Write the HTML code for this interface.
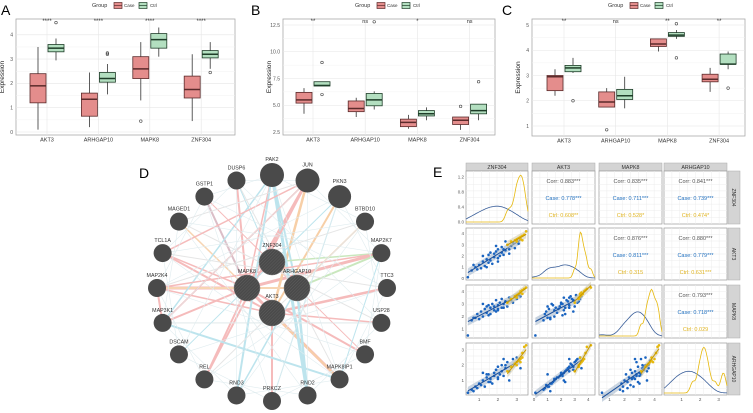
<!DOCTYPE html>
<html><head><meta charset="utf-8">
<style>
html,body{margin:0;padding:0;background:#fff;}
svg{display:block;font-family:"Liberation Sans",sans-serif;}
</style></head>
<body>
<svg id="fig" width="753" height="413" viewBox="0 0 753 413" xmlns="http://www.w3.org/2000/svg">
<defs><pattern id="hatch" width="2.2" height="2.2" patternUnits="userSpaceOnUse" patternTransform="rotate(45)"><rect width="2.2" height="2.2" fill="#4a4a4a"/><line x1="0" y1="0" x2="0" y2="2.2" stroke="#6a6a6a" stroke-width="0.6"/></pattern></defs>
</svg>
<script>
// ---------- Box plot data ----------
const boxCategories = ["AKT3","ARHGAP10","MAPK8","ZNF304"];
// [low whisker, q1, median, q3, high whisker]
const aCase = [[0.1,1.2,1.9,2.4,3.5],[0.2,0.65,1.35,1.6,2.45],[1.3,2.2,2.6,3.1,3.7],[0.45,1.4,1.75,2.3,3.2]];
const aCtrl = [[2.95,3.3,3.45,3.6,3.85],[1.55,2.05,2.2,2.45,2.8],[3.1,3.45,3.8,4.05,4.3],[2.6,3.05,3.2,3.35,3.7]];
const aCaseOut = [[],[],[0.45],[]];
const aCtrlOut = [[4.5],[3.2,3.25],[],[2.45]];
const aSig = ["****","****","****","****"];
const aTicks = [0,1,2,3,4];

const bCase = [[4.2,5.2,5.5,6.2,6.6],[3.9,4.4,4.7,5.4,5.7],[2.8,3.0,3.4,3.7,4.1],[2.7,3.2,3.6,3.9,3.9]];
const bCtrl = [[6.8,6.8,6.85,7.2,7.2],[4.6,4.95,5.5,6.1,6.3],[3.6,4.0,4.2,4.5,4.8],[3.6,4.2,4.5,5.1,5.1]];
const bCaseOut = [[],[],[],[4.9]];
const bCtrlOut = [[9.0,6.0],[12.8],[],[7.2]];
const bSig = ["**","ns","*","ns"];
const bTicks = [2.5,5.0,7.5,10.0,12.5];

const cCase = [[2.2,2.4,2.95,3.0,3.25],[1.75,1.75,1.95,2.35,2.5],[3.95,4.15,4.25,4.45,4.45],[2.35,2.75,2.85,3.05,3.3]];
const cCtrl = [[3.1,3.15,3.3,3.4,3.7],[1.7,2.05,2.2,2.45,2.95],[4.45,4.55,4.6,4.7,4.8],[3.25,3.45,3.45,3.85,3.95]];
const cCaseOut = [[],[0.85],[],[]];
const cCtrlOut = [[2.0],[],[5.05,3.7],[2.5]];
const cSig = ["**","ns","**","**"];
const cTicks = [1,2,3,4,5];

// ---------- Correlation (panel E) data: per-sample expression ----------
const genes = ["ZNF304","AKT3","MAPK8","ARHGAP10"];
const caseZNF = [0.4,0.6,0.8,0.9,1.0,1.1,1.2,1.3,1.4,1.5,1.5,1.6,1.7,1.8,1.8,1.9,2.0,2.0,2.1,2.2,2.2,2.3,2.4,2.5,2.6,2.7,2.8,2.9,3.0,3.1,1.2,1.6,2.0,2.4,0.7,1.9,2.6,1.4,2.3,3.2];
const caseAKT = [0.1,0.7,1.0,0.8,1.2,0.9,1.5,1.1,1.7,1.4,2.1,1.6,1.3,2.2,1.9,2.4,1.8,2.6,2.0,2.3,2.8,2.1,2.5,3.0,2.6,2.9,3.2,2.7,3.4,3.1,2.0,2.3,1.5,3.3,1.2,2.9,2.2,1.0,2.6,3.5];
const caseMAP = [0.5,1.7,1.9,2.2,1.8,2.4,2.0,2.6,2.3,2.9,2.1,2.7,3.0,2.5,2.8,3.3,2.6,2.9,3.1,2.7,3.4,3.0,3.2,2.8,3.5,3.3,3.1,3.6,3.4,3.7,3.0,2.2,2.5,3.2,1.9,2.4,3.5,2.8,2.7,3.6];
const caseARH = [0.2,0.4,0.6,0.5,0.8,0.7,1.0,0.6,1.2,0.9,1.4,1.1,0.8,1.5,1.3,1.7,1.2,1.9,1.4,1.6,2.0,1.3,1.8,2.2,1.6,1.9,2.4,2.1,2.5,2.3,1.5,0.9,1.1,2.0,0.3,1.7,1.0,1.4,2.4,1.8];
const ctrlZNF = [2.5,2.7,2.9,3.0,3.1,3.2,3.2,3.3,3.3,3.4,3.5,3.0];
const ctrlAKT = [3.0,3.3,3.4,3.5,3.6,3.5,3.7,3.4,3.8,3.9,4.2,3.3];
const ctrlMAP = [3.1,3.4,3.6,3.7,3.8,3.9,4.0,3.8,4.1,4.2,4.3,3.5];
const ctrlARH = [1.6,1.9,2.1,2.2,2.3,2.2,2.4,2.5,2.8,3.2,3.3,2.0];
const corrAll  = ["0.883***","0.835***","0.841***","0.876***","0.880***","0.793***"];
const corrCase = ["0.778***","0.711***","0.739***","0.811***","0.779***","0.718***"];
const corrCtrl = ["0.608**","0.528*","0.474*","0.315","0.631***","0.029"];

// ---------- Network (panel D) ----------
const netNodes = ["PAK2","JUN","PKN3","BTBD10","MAP2K7","TTC3","USP28","BMF","MAPK8IP1","RND2","PRKCZ","RND3","REL","DSCAM","MAP3K1","MAP2K4","TCL1A","MAGED1","GSTP1","DUSP6","ZNF304","MAPK8","ARHGAP10","AKT3"];
const netEdges = [
 ["MAPK8","JUN","#f2a5a5",3],["MAPK8","MAP2K7","#f2a5a5",3],["MAPK8","MAP2K4","#f2a5a5",3],["MAPK8","MAP3K1","#f2a5a5",2],
 ["MAPK8","MAPK8IP1","#f2a5a5",3],["MAPK8","DUSP6","#f2a5a5",2],["MAPK8","GSTP1","#cfa9b5",2],["MAPK8","REL","#f2a5a5",2],
 ["MAPK8","MAGED1","#f5c79a",1.5],["MAPK8","BMF","#f2a5a5",2],["MAPK8","PAK2","#f2a5a5",1.5],["MAPK8","TCL1A","#f2a5a5",1.5],
 ["AKT3","JUN","#f5c08a",2.5],["AKT3","PKN3","#f5c08a",2],["AKT3","PRKCZ","#f2a5a5",2],["AKT3","TTC3","#f2a5a5",2.5],
 ["AKT3","MAPK8IP1","#f5c08a",2],["AKT3","MAP2K4","#f2a5a5",1.5],["AKT3","TCL1A","#f2a5a5",2],["AKT3","USP28","#f2a5a5",1.5],
 ["ARHGAP10","MAP2K7","#b8e0a8",2],["ARHGAP10","PAK2","#a8dce8",2],["ARHGAP10","RND2","#a8dce8",2.5],["ARHGAP10","RND3","#a8dce8",1.5],
 ["ARHGAP10","MAP2K4","#f5c79a",2],["ARHGAP10","BTBD10","#f5c79a",1.5],["ZNF304","MAP2K7","#b8e0a8",1.5],["ZNF304","DUSP6","#a8dce8",1],
 ["PAK2","RND2","#a8dce8",3],["PAK2","MAP3K1","#a8dce8",1.5],["JUN","REL","#f2a5a5",2],["JUN","MAP3K1","#f2a5a5",1.5],
 ["MAP3K1","MAPK8IP1","#a8dce8",2],["MAP2K4","MAP2K7","#f2a5a5",1.5],["MAP2K4","MAP3K1","#f2a5a5",2],["MAP3K1","USP28","#dddddd",1],
 ["RND3","PAK2","#a8dce8",2],["PRKCZ","PKN3","#a8dce8",1],["GSTP1","BMF","#f2a5a5",1],["DUSP6","MAPK8IP1","#dddddd",1],
 ["TCL1A","TTC3","#dddddd",1],["MAGED1","USP28","#dddddd",1],["DSCAM","PKN3","#a8dce8",1],["REL","BTBD10","#dddddd",1],
 ["MAP2K7","MAPK8IP1","#a8dce8",1],["BTBD10","MAP2K4","#dddddd",1],["JUN","TCL1A","#f2a5a5",1.5],["JUN","MAGED1","#dddddd",1]
];
</script>
<script>
const NS="http://www.w3.org/2000/svg";
const svg=document.getElementById('fig');
function mk(tag,attrs,parent,text){const e=document.createElementNS(NS,tag);for(const k in attrs)e.setAttribute(k,attrs[k]);if(text!==undefined)e.textContent=text;(parent||svg).appendChild(e);return e;}

function panelLabel(t,x,y){const e=mk('text',{x:x,y:y,'font-size':14,fill:'#000'},svg,t);

}

function boxPanel(id,ox,x0,x1,y0,y1,vA,yA,vB,yB,catStart,catStep,caseD,ctrlD,caseO,ctrlO,sig,ticks,legX){
  const g=mk('g',{});
  
  
  const ys=v=>yA+(v-vA)*(yB-yA)/(vB-vA);
  mk('rect',{x:x0,y:y0,width:x1-x0,height:y1-y0,fill:'#fff',stroke:'#aaa','stroke-width':0.8},g);
  for(let i=0;i<ticks.length;i++){
    const y=ys(ticks[i]);
    mk('line',{x1:x0,x2:x1,y1:y,y2:y,stroke:'#e6e6e6','stroke-width':0.6},g);
    if(i<ticks.length-1){const ym=ys((ticks[i]+ticks[i+1])/2);mk('line',{x1:x0,x2:x1,y1:ym,y2:ym,stroke:'#f2f2f2','stroke-width':0.5},g);}
    const t=mk('text',{x:x0-3,y:y+1.8,'font-size':5,fill:'#555','text-anchor':'end'},g,(ticks[i]%1===0&&id!=='b')?String(ticks[i]):ticks[i].toFixed(1));
    
    
  }
  boxCategories.forEach((c,i)=>{
    const cx=catStart+i*catStep;
    mk('line',{x1:cx,x2:cx,y1:y0,y2:y1,stroke:'#e6e6e6','stroke-width':0.6},g);
    const xl=mk('text',{x:cx,y:y1+6.5,'font-size':5.5,fill:'#333','text-anchor':'middle'},g,c);
    
    
    const s=mk('text',{x:cx,y:y0+4,'font-size':sig[i]==='ns'?5.5:6,fill:'#333','text-anchor':'middle'},g,sig[i]);
    
    
    [[caseD,caseO,-9,'#e48d8c','#5b2b2b','case'],[ctrlD,ctrlO,9,'#b3dfc0','#1e3d28','ctrl']].forEach(([d,o,off,fill,st,nm])=>{
      const q=d[i];const bx=cx+off;const w=16;
      mk('line',{x1:bx,x2:bx,y1:ys(q[0]),y2:ys(q[4]),stroke:'#333','stroke-width':0.8},g);
      const r=mk('rect',{x:bx-w/2,y:ys(q[3]),width:w,height:Math.max(0.5,ys(q[1])-ys(q[3])),fill:fill,stroke:st,'stroke-width':0.8},g);
      
      
      mk('line',{x1:bx-w/2,x2:bx+w/2,y1:ys(q[2]),y2:ys(q[2]),stroke:st,'stroke-width':1.5},g);
      o[i].forEach(v=>{const p=mk('circle',{cx:bx,cy:ys(v),r:1.3,fill:'none',stroke:'#444','stroke-width':0.6},g);
        
        });
    });
  });
  const yt=mk('text',{x:0,y:0,'font-size':6.5,fill:'#222','text-anchor':'middle',transform:`translate(${x0-12},${(y0+y1)/2}) rotate(-90)`},g,'Expression');
  
  
  const lg=mk('g',{},g);
  
  
  mk('text',{x:legX,y:7,'font-size':5.5,fill:'#333'},lg,'Group');
  mk('rect',{x:legX+22,y:2.5,width:8,height:6,fill:'#e48d8c',stroke:'#5b2b2b','stroke-width':0.7},lg);
  mk('line',{x1:legX+22,x2:legX+30,y1:5.5,y2:5.5,stroke:'#5b2b2b','stroke-width':0.7},lg);
  mk('text',{x:legX+32,y:7,'font-size':4.5,fill:'#333'},lg,'Case');
  mk('rect',{x:legX+47,y:2.5,width:8,height:6,fill:'#b3dfc0',stroke:'#1e3d28','stroke-width':0.7},lg);
  mk('line',{x1:legX+47,x2:legX+55,y1:5.5,y2:5.5,stroke:'#1e3d28','stroke-width':0.7},lg);
  mk('text',{x:legX+58,y:7,'font-size':4.5,fill:'#333'},lg,'Ctrl');
}

panelLabel('A',1,15);panelLabel('B',251,15);panelLabel('C',502,15);
boxPanel('a',0,16,235,19,135,0,132,4,34.8,47,51.4,aCase,aCtrl,aCaseOut,aCtrlOut,aSig,aTicks,92);
boxPanel('b',250,283,495,19,135,2.5,132,12.5,25,313,52.2,bCase,bCtrl,bCaseOut,bCtrlOut,bSig,bTicks,355);
boxPanel('c',500,532,745,19,136,1,126,5,25,564,51.7,cCase,cCtrl,cCaseOut,cCtrlOut,cSig,cTicks,608);

// ---------- Network D ----------
panelLabel('D',139,178);
(function(){
  const g=mk('g',{});
  
  
  const cx=272,cy=288,rx=115,ry=113;
  const pos={};
  for(let i=0;i<20;i++){const a=-Math.PI/2+i*2*Math.PI/20;pos[netNodes[i]]=[cx+rx*Math.cos(a),cy+ry*Math.sin(a)];}
  pos["ZNF304"]=[272,262];pos["MAPK8"]=[247,288];pos["ARHGAP10"]=[297,288];pos["AKT3"]=[272,313];
  const eg=mk('g',{opacity:0.75},g);
  netEdges.forEach(e=>{const a=pos[e[0]],b=pos[e[1]];
    const l=mk('line',{x1:a[0],y1:a[1],x2:b[0],y2:b[1],stroke:e[2],'stroke-width':e[3]},eg);
    
    });
  for(let i=0;i<20;i++){for(let j=i+3;j<20;j+=5){const a=pos[netNodes[i]],b=pos[netNodes[j]];
    const l=mk('line',{x1:a[0],y1:a[1],x2:b[0],y2:b[1],stroke:'#d6e6ea','stroke-width':0.6},eg);
    
    }}
  netNodes.forEach((n,i)=>{
    const p=pos[n];const hub=i>=20;
    let r=hub?13:9; if(n==='PAK2'||n==='JUN')r=12; if(n==='PKN3')r=11.5;
    const c=mk('circle',{cx:p[0],cy:p[1],r:r,fill:hub?'url(#hatch)':'#4a4a4a',stroke:hub?'#777':'none','stroke-width':0.5},g);
    
    
    const t=mk('text',{x:p[0],y:p[1]-r-2,'font-size':5.3,fill:'#333','text-anchor':'middle'},g,n);
    
    
  });
})();

// ---------- Correlation matrix E ----------
panelLabel('E',433,177);
(function(){
  const g=mk('g',{});
  
  
  const colX=[[466,528],[532,595],[599,662],[664,727]];
  const rowY=[[171,224],[228,280],[285,338],[343,395]];
  const caseV=[caseZNF,caseAKT,caseMAP,caseARH];
  const ctrlV=[ctrlZNF,ctrlAKT,ctrlMAP,ctrlARH];
  const dom=[[0.3,3.6],[-0.15,4.5],[0.3,4.5],[0.05,3.45]];
  const tk=[[1,2,3],[0,1,2,3,4],[1,2,3,4],[1,2,3]];
  const sx=(j,v)=>colX[j][0]+(v-dom[j][0])/(dom[j][1]-dom[j][0])*(colX[j][1]-colX[j][0]);
  const sy=(i,v)=>rowY[i][1]-(v-dom[i][0])/(dom[i][1]-dom[i][0])*(rowY[i][1]-rowY[i][0]);
  const BLUE='#1a64c0',YEL='#e6b80c';
  genes.forEach((gn,j)=>{
    mk('rect',{x:colX[j][0],y:163,width:colX[j][1]-colX[j][0],height:8,fill:'#d4d4d4',stroke:'#aaa','stroke-width':0.5},g);
    const t=mk('text',{x:(colX[j][0]+colX[j][1])/2,y:169,'font-size':5.3,fill:'#333','text-anchor':'middle'},g,gn);
    
    
    mk('rect',{x:728,y:rowY[j][0],width:12,height:rowY[j][1]-rowY[j][0],fill:'#d4d4d4',stroke:'#aaa','stroke-width':0.5},g);
    const r=mk('text',{x:0,y:0,'font-size':5,fill:'#333','text-anchor':'middle',transform:`translate(${732},${(rowY[j][0]+rowY[j][1])/2}) rotate(90)`},g,gn);
    
    
  });
  function kde(arr,bw,x){let s=0;arr.forEach(v=>{const z=(x-v)/bw;s+=Math.exp(-0.5*z*z);});return s/(arr.length*bw*Math.sqrt(2*Math.PI));}
  function fit(xs,ys){const n=xs.length;const mx=xs.reduce((a,b)=>a+b)/n,my=ys.reduce((a,b)=>a+b)/n;let sxy=0,sxx=0;for(let k=0;k<n;k++){sxy+=(xs[k]-mx)*(ys[k]-my);sxx+=(xs[k]-mx)**2;}const b=sxy/sxx;return[my-b*mx,b,Math.min(...xs),Math.max(...xs)];}
  let ci=0;
  for(let i=0;i<4;i++)for(let j=0;j<4;j++){
    const x0=colX[j][0],x1=colX[j][1],y0=rowY[i][0],y1=rowY[i][1];
    const cell=mk('g',{},g);
    
    
    mk('rect',{x:x0,y:y0,width:x1-x0,height:y1-y0,fill:'#fff',stroke:'#999','stroke-width':0.7},cell);
    for(let k=1;k<8;k++){const xx=x0+(x1-x0)*k/8,yy=y0+(y1-y0)*k/8;
      mk('line',{x1:xx,x2:xx,y1:y0,y2:y1,stroke:'#ececec','stroke-width':0.5},cell);
      mk('line',{x1:x0,x2:x1,y1:yy,y2:yy,stroke:'#ececec','stroke-width':0.5},cell);}
    if(j>i){
      const cx=(x0+x1)/2;
      mk('text',{x:cx,y:y0+12,'font-size':5.5,fill:'#555','text-anchor':'middle'},cell,'Corr: '+corrAll[ci]);
      mk('text',{x:cx,y:y0+29,'font-size':5.5,fill:'#1f6fbf','text-anchor':'middle'},cell,'Case: '+corrCase[ci]);
      mk('text',{x:cx,y:y0+46,'font-size':5.5,fill:'#e0b420','text-anchor':'middle'},cell,'Ctrl: '+corrCtrl[ci]);
      ci++;
    } else if(i===j){
      // scale so the tallest curve reaches near the top
      let mx=0;for(let k=0;k<=60;k++){const v=dom[i][0]+(dom[i][1]-dom[i][0])*k/60;mx=Math.max(mx,kde(ctrlV[i],0.13,v),kde(caseV[i],0.35,v));}
      const ymax=mx*1.05;
      [[caseV[i],0.35,'#3a5f9a'],[ctrlV[i],0.13,YEL]].forEach(([arr,bw,col])=>{
        let d='';for(let k=0;k<=60;k++){const v=dom[i][0]+(dom[i][1]-dom[i][0])*k/60;const x=x0+(x1-x0)*k/60;const y=y1-2-kde(arr,bw,v)/ymax*(y1-y0-4);d+=(k?'L':'M')+x.toFixed(1)+','+y.toFixed(1);}
        const p=mk('path',{d:d,fill:'none',stroke:col,'stroke-width':0.8},cell);
        
        
      });
      if(i===0){[0,0.4,0.8,1.2].forEach(v=>{const y=y1-2-v/1.3*(y1-y0-4);mk('text',{x:x0-2,y:y+1.5,'font-size':4.5,fill:'#555','text-anchor':'end'},g,v.toFixed(1));});}
    } else {
      [[caseV,BLUE,'#9fb2c8'],[ctrlV,YEL,'#d0c8a8']].forEach(([V,col,band])=>{
        const f=fit(V[j],V[i]);
        const xa=f[2],xb=f[3];
        const pa=[sx(j,xa),sy(i,f[0]+f[1]*xa)],pb=[sx(j,xb),sy(i,f[0]+f[1]*xb)];
        mk('polygon',{points:`${pa[0]},${pa[1]-4} ${pb[0]},${pb[1]-4} ${pb[0]},${pb[1]+4} ${pa[0]},${pa[1]+4}`,fill:band,opacity:0.55},cell);
        V[j].forEach((xv,k)=>{const p=mk('circle',{cx:sx(j,xv),cy:sy(i,V[i][k]),r:1.3,fill:col},cell);
          
          });
        mk('line',{x1:pa[0],y1:pa[1],x2:pb[0],y2:pb[1],stroke:col===BLUE?'#1b4f9a':'#c99a00','stroke-width':1},cell);
      });
    }
    if(j===0&&i>0){tk[i].forEach(v=>{mk('text',{x:x0-2,y:sy(i,v)+1.5,'font-size':4.5,fill:'#555','text-anchor':'end'},g,String(v));});}
    if(i===3){tk[j].forEach(v=>{mk('text',{x:sx(j,v),y:y1+6,'font-size':4.5,fill:'#555','text-anchor':'middle'},g,String(v));});}
  }
})();
</script>
</body></html>
